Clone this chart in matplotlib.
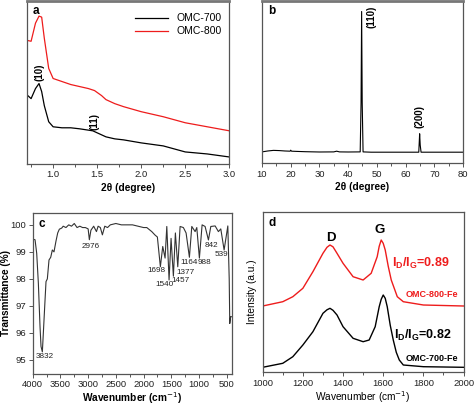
import matplotlib
matplotlib.use("Agg")
import matplotlib.pyplot as plt
from matplotlib.ticker import MultipleLocator

plt.rcParams['font.family'] = ['Liberation Sans', 'DejaVu Sans']

# ---------------- Panel a : low-angle XRD ----------------
a_x = [0.70, 0.75, 0.80, 0.84, 0.87, 0.90, 0.95, 0.98, 1.00, 1.10, 1.20, 1.30, 1.40,
       1.47, 1.55, 1.60, 1.70, 1.80, 2.00, 2.25, 2.50, 2.75, 3.00]
a_omc800 = [123, 122, 140, 147, 146, 125, 95, 89, 85, 82, 79, 77, 75,
            73, 68, 64, 60, 57, 52, 47, 41, 37, 33]
a_x700 = [0.70, 0.75, 0.80, 0.84, 0.87, 0.90, 0.95, 1.00, 1.10, 1.20, 1.30, 1.45,
          1.50, 1.60, 1.70, 1.80, 2.00, 2.25, 2.50, 2.75, 3.00]
a_omc700 = [69, 65, 75, 80, 72, 58, 42, 37, 36, 36, 35, 33,
            31, 27, 25, 24, 21, 18, 12, 10, 7]
a_labels = ['(10)', '(11)']
a_label_x = [0.845, 1.466]
a_label_y = [91, 42]

# ---------------- Panel b : wide-angle XRD ----------------
b_x = [10, 12, 14, 16, 18, 19.8, 20.0, 20.3, 22, 25, 30, 35, 36, 37, 40, 44.2, 44.5,
       44.7, 44.9, 45.2, 48, 55, 60, 64.6, 64.9, 65.1, 65.4, 70, 75, 80]
b_y = [11.3, 12.2, 12.8, 12.6, 12.2, 12.0, 13.0, 12.0, 11.8, 11.5, 11.2, 11.3, 12.0, 11.3,
       11.2, 11.3, 60, 150.6, 60, 11.3, 11.0, 11.0, 11.0, 11.0, 29.3, 18, 11.0, 11.0, 11.0, 11.0]
b_labels = ['(110)', '(200)']
b_label_x = [48.3, 64.9]
b_label_y = [145, 46.6]

# ---------------- Panel c : FTIR ----------------
c_wn = [4000, 3958, 3928, 3898, 3868, 3850, 3826, 3808, 3778, 3760, 3736, 3706, 3675,
        3646, 3616, 3580, 3549, 3519, 3477, 3450, 3400, 3350, 3300, 3250, 3200, 3150,
        3100, 3050, 3000, 2978, 2950, 2900, 2850, 2820, 2780, 2743, 2700, 2650, 2600,
        2500, 2400, 2200, 2000, 1942, 1852, 1792, 1751, 1697, 1654, 1612, 1581, 1540,
        1504, 1462, 1426, 1383, 1341, 1282, 1233, 1173, 1130, 1070, 1040, 993, 944,
        890, 830, 787, 709, 650, 607, 547, 480, 455, 445, 430, 405]
c_T = [99.47, 99.45, 98.95, 97.84, 96.23, 95.5, 95.3, 96.0, 97.2, 97.9, 98.0, 98.7, 98.8,
       99.07, 99.0, 99.4, 99.7, 99.84, 99.88, 99.95, 99.9, 100.0, 99.95, 100.05, 99.9, 99.95,
       99.9, 99.9, 99.85, 99.45, 99.8, 99.95, 99.75, 99.95, 99.9, 99.63, 99.95, 99.9, 100.0,
       100.05, 100.0, 100.0, 99.9, 99.9, 99.75, 99.62, 99.55, 98.45, 99.2, 98.77, 99.94, 97.96,
       99.5, 98.1, 99.7, 98.45, 99.94, 99.9, 99.7, 98.8, 99.94, 99.75, 99.9, 98.77, 100.0,
       99.94, 99.44, 99.94, 99.96, 99.75, 99.85, 99.07, 99.96, 98.0, 96.35, 96.6, 96.6]
c_labels = ['3832', '2976', '1698', '1540', '1457', '1377', '1164', '988', '842', '539']
c_label_x = [3778, 2948, 1762, 1625, 1341, 1251, 1178, 893, 782, 601]
c_label_y = [95.12, 99.2, 98.31, 97.78, 97.93, 98.25, 98.6, 98.62, 99.22, 98.89]

# ---------------- Panel d : Raman ----------------
d_wn800 = [1000, 1100, 1150, 1200, 1250, 1300, 1320, 1335, 1350, 1370, 1400, 1450, 1500,
           1540, 1570, 1580, 1590, 1600, 1610, 1625, 1640, 1670, 1700, 1800, 2000]
d_omc800 = [66.3, 70.6, 75.6, 84, 100.6, 119, 125, 127.3, 125.5, 119, 109, 95.6, 92.3,
            99, 115.6, 126, 132.3, 129, 122.3, 106, 92.3, 75.6, 70.6, 67.3, 66.3]
d_wn700 = [1000, 1100, 1150, 1200, 1250, 1300, 1320, 1335, 1350, 1370, 1400, 1450, 1500,
           1530, 1560, 1580, 1590, 1600, 1610, 1620, 1635, 1650, 1665, 1680, 1700, 1800, 2000]
d_omc700 = [5, 9, 15.6, 27.3, 40.6, 59, 62.5, 64, 62, 57.3, 45.6, 34, 30.6,
            32.3, 45.6, 65.6, 73, 77.3, 74, 65.6, 47, 32.3, 20, 12.3, 7.3, 5.6, 5]

SP = '#555555'
RED = '#ee1c1c'

fig = plt.figure(figsize=(4.74, 4.08), dpi=100)

def style(ax):
    for s in ax.spines.values():
        s.set_color(SP)
        s.set_linewidth(0.9)
    ax.spines['top'].set_linewidth(2.0)
    ax.spines['top'].set_color('#777777')
    ax.tick_params(which='both', direction='out', colors=SP, labelcolor='#222222',
                   labelsize=6.8, width=0.7, pad=1.5)
    ax.tick_params(which='major', length=3)
    ax.tick_params(which='minor', length=1.8)

# a
axa = fig.add_axes([0.0563, 0.598, 0.4275, 0.3995])
style(axa)
axa.plot(a_x700, a_omc700, color='black', lw=0.9, label='OMC-700')
axa.plot(a_x, a_omc800, color=RED, lw=0.9, label='OMC-800')
axa.set_xlim(0.7, 3.0)
axa.set_ylim(0, 162)
axa.set_yticks([])
axa.xaxis.set_major_locator(MultipleLocator(0.5))
axa.xaxis.set_minor_locator(MultipleLocator(0.25))
axa.set_xlabel('2θ (degree)', fontsize=7.3, fontweight='bold', labelpad=2.5)
for t, x, y in zip(a_labels, a_label_x, a_label_y):
    axa.text(x, y, t, rotation=90, ha='center', va='center', fontsize=7, fontweight='bold')
axa.text(0.03, 0.975, 'a', transform=axa.transAxes, ha='left', va='top',
         fontsize=8.5, fontweight='bold')
axa.legend(loc='upper right', frameon=False, fontsize=7.5, handlelength=3.2,
           borderaxespad=0.3, bbox_to_anchor=(1.0, 0.97), labelspacing=0.3)

# b
axb = fig.add_axes([0.5527, 0.5998, 0.4241, 0.3977])
style(axb)
axb.plot(b_x, b_y, color='black', lw=0.8)
axb.set_xlim(10, 80)
axb.set_ylim(0, 161)
axb.set_yticks([])
axb.xaxis.set_major_locator(MultipleLocator(10))
axb.xaxis.set_minor_locator(MultipleLocator(5))
axb.set_xlabel('2θ (degree)', fontsize=7.3, fontweight='bold', labelpad=2.5)
for t, x, y in zip(b_labels, b_label_x, b_label_y):
    axb.text(x, y, t, rotation=90, ha='center', va='center', fontsize=7, fontweight='bold')
axb.text(0.03, 0.975, 'b', transform=axb.transAxes, ha='left', va='top',
         fontsize=8.5, fontweight='bold')

# c
axc = fig.add_axes([0.069, 0.0833, 0.421, 0.3954])
style(axc)
axc.spines['top'].set_linewidth(0.9)
axc.spines['top'].set_color(SP)
axc.plot(c_wn, c_T, color='#333333', lw=0.8)
axc.set_xlim(4000, 400)
axc.set_ylim(94.48, 100.45)
axc.xaxis.set_major_locator(MultipleLocator(500))
axc.xaxis.set_minor_locator(MultipleLocator(250))
axc.yaxis.set_major_locator(MultipleLocator(1))
axc.set_xlabel('Wavenumber (cm$^{-1}$)', fontsize=7.3, fontweight='bold', labelpad=1)
axc.set_ylabel('Transmittance (%)', fontsize=7.2, fontweight='bold')
axc.yaxis.set_label_coords(-0.108, 0.5)
for t, x, y in zip(c_labels, c_label_x, c_label_y):
    axc.text(x, y, t, ha='center', va='center', fontsize=5.9, color='#222222')
axc.text(0.03, 0.965, 'c', transform=axc.transAxes, ha='left', va='top',
         fontsize=8.5, fontweight='bold')

# d
axd = fig.add_axes([0.5542, 0.0875, 0.4238, 0.3936])
style(axd)
axd.spines['top'].set_linewidth(0.9)
axd.spines['top'].set_color(SP)
axd.plot(d_wn700, d_omc700, color='black', lw=1.0)
axd.plot(d_wn800, d_omc800, color=RED, lw=1.0)
axd.set_xlim(1000, 2000)
axd.set_ylim(0, 160.6)
axd.set_yticks([])
axd.xaxis.set_major_locator(MultipleLocator(200))
axd.xaxis.set_minor_locator(MultipleLocator(100))
axd.set_xlabel('Wavenumber (cm$^{-1}$)', fontsize=7.3, labelpad=1)
axd.set_ylabel('Intensity (a.u.)', fontsize=7.3, labelpad=4)
axd.text(0.03, 0.965, 'd', transform=axd.transAxes, ha='left', va='top',
         fontsize=8.5, fontweight='bold')
axd.text(1340, 134, 'D', ha='center', va='center', fontsize=9.5, fontweight='bold')
axd.text(1582, 142.3, 'G', ha='center', va='center', fontsize=9.5, fontweight='bold')
axd.text(1643, 109, r'I$_\mathregular{D}$/I$_\mathregular{G}$=0.89', ha='left', va='center',
         fontsize=9, fontweight='bold', color=RED)
axd.text(1975, 78, 'OMC-800-Fe', ha='right', va='center', fontsize=6.5,
         fontweight='bold', color=RED)
axd.text(1655, 37, r'I$_\mathregular{D}$/I$_\mathregular{G}$=0.82', ha='left', va='center',
         fontsize=9, fontweight='bold', color='black')
axd.text(1975, 14, 'OMC-700-Fe', ha='right', va='center', fontsize=6.5,
         fontweight='bold', color='black')

fig.savefig('out.png', dpi=100)
